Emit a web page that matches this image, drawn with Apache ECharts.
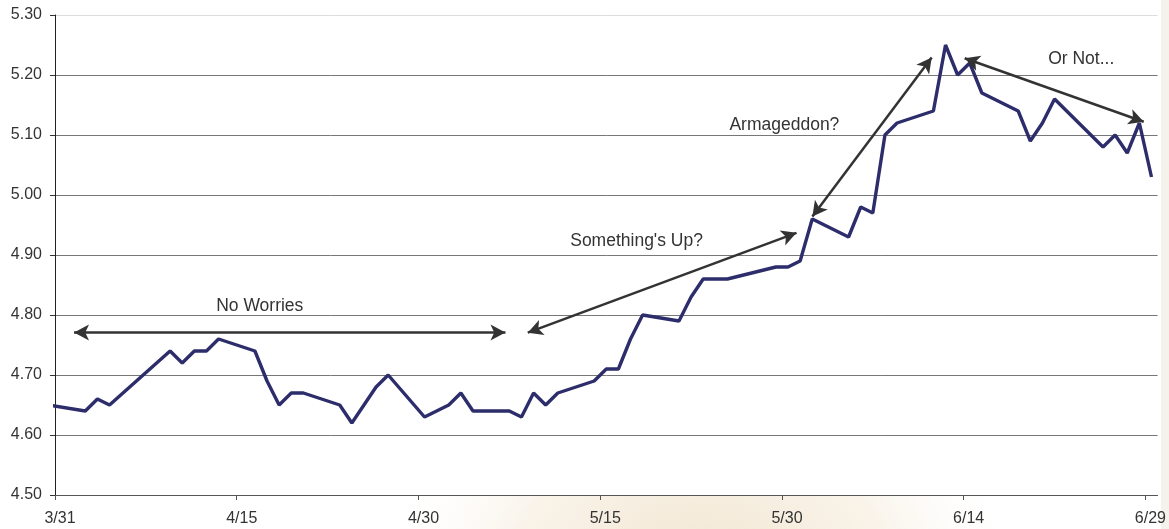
<!DOCTYPE html>
<html>
<head>
<meta charset="UTF-8">
<title>Yield</title>
<style>
  * { margin: 0; padding: 0; box-sizing: border-box; }
  body { width: 1169px; height: 529px; background: #fff; overflow: hidden; }
  #chart { width: 1169px; height: 529px; }
</style>
<script src="https://cdn.jsdelivr.net/npm/echarts@6/dist/echarts.min.js"></script>
</head>
<body>
<div id="chart"></div>
<script>
// 日期 (2007) 和收益率
const dates = [
  '3/30', '4/2', '4/3', '4/4', '4/9', '4/10', '4/11', '4/12', '4/13',
  '4/16', '4/17', '4/18', '4/19', '4/20', '4/23', '4/24', '4/26', '4/27',
  '4/30', '5/1', '5/2', '5/3', '5/4', '5/7', '5/8', '5/9', '5/10', '5/11',
  '5/14', '5/15', '5/16', '5/17', '5/18', '5/21', '5/22', '5/23', '5/24', '5/25',
  '5/29', '5/30', '5/31', '6/1', '6/4', '6/5', '6/6', '6/7', '6/8',
  '6/11', '6/12', '6/13', '6/14', '6/15', '6/18', '6/19', '6/20', '6/21',
  '6/25', '6/26', '6/27', '6/28', '6/29'
]
const yields = [
  4.65, 4.64, 4.66, 4.65, 4.74, 4.72, 4.74, 4.74, 4.76,
  4.74, 4.69, 4.65, 4.67, 4.67, 4.65, 4.62, 4.68, 4.70,
  4.63, 4.64, 4.65, 4.67, 4.64, 4.64, 4.63, 4.67, 4.65, 4.67,
  4.69, 4.71, 4.71, 4.76, 4.80, 4.79, 4.83, 4.86, 4.86, 4.86,
  4.88, 4.88, 4.89, 4.96, 4.93, 4.98, 4.97, 5.10, 5.12,
  5.14, 5.25, 5.20, 5.22, 5.17, 5.14, 5.09, 5.12, 5.16,
  5.08, 5.10, 5.07, 5.12, 5.03
]

// x 轴刻度标签
const tickLabels = ['3/31', '4/15', '4/30', '5/15', '5/30', '6/14', '6/29']

// 注释箭头：[起点天数, 起点值, 终点天数, 终点值]
const arrows = [
  [1.57, 4.771, 37.18, 4.771],
  [39.02, 4.7705, 61.2, 4.937],
  [62.51, 4.964, 72.36, 5.229],
  [75.08, 5.228, 89.86, 5.122]
]
// 注释文字：[文字, 天数, 值]
const notes = [
  ['No Worries', 16.9, 4.815],
  ["Something's Up?", 48.0, 4.923],
  ['Armageddon?', 60.2, 5.117],
  ['Or Not...', 84.7, 5.227]
]

const base = Date.UTC(2007, 2, 31)
const dayOf = (s) => {
  const [m, d] = s.split('/').map(Number)
  return (Date.UTC(2007, m - 1, d) - base) / 86400000
}
const lineData = dates.map((s, i) => [dayOf(s) + 0.5, yields[i]])

const chart = echarts.init(document.getElementById('chart'))

const font = 'Liberation Sans, Arial, sans-serif'

const option = {
  backgroundColor: '#fff',
  animation: false,
  graphic: [
    {
      type: 'circle',
      z: -10,
      silent: true,
      shape: { cx: 700, cy: 620, r: 330 },
      style: {
        fill: new echarts.graphic.RadialGradient(0.5, 0.5, 0.5, [
          { offset: 0, color: 'rgba(232,212,178,0.7)' },
          { offset: 0.6, color: 'rgba(240,225,200,0.4)' },
          { offset: 1, color: 'rgba(255,255,255,0)' }
        ])
      }
    },
    {
      type: 'rect',
      z: -10,
      silent: true,
      shape: { x: 1161, y: 0, width: 8, height: 529 },
      style: { fill: 'rgba(238,232,222,0.6)' }
    }
  ],
  grid: {
    left: 55, right: 11, top: 15, bottom: 34,
    show: true, backgroundColor: '#fff', borderWidth: 0
  },
  xAxis: {
    type: 'value',
    min: 0,
    max: 91,
    interval: 15,
    axisLine: { show: true, lineStyle: { color: '#555', width: 1 } },
    axisTick: { show: true, length: 5, lineStyle: { color: '#555' } },
    splitLine: { show: false },
    axisLabel: {
      color: '#333',
      fontFamily: font,
      fontSize: 16,
      margin: 16,
      padding: [0, 0, 0, 10],
      showMaxLabel: false,
      formatter: (v) => (v % 15 === 0 ? tickLabels[v / 15] || '' : '')
    }
  },
  yAxis: {
    type: 'value',
    min: 4.5,
    max: 5.3,
    interval: 0.1,
    axisLine: { show: true, lineStyle: { color: '#222', width: 1 } },
    axisTick: { show: true, length: 5, lineStyle: { color: '#333' } },
    splitLine: {
      show: true,
      lineStyle: {
        color: ['#666', '#777', '#777', '#777', '#777', '#777', '#777', '#777', '#ddd'],
        width: 1
      }
    },
    axisLabel: {
      color: '#333',
      fontFamily: font,
      fontSize: 16,
      margin: 13,
      formatter: (v) => v.toFixed(2)
    }
  },
  series: [
    {
      type: 'line',
      data: lineData,
      showSymbol: false,
      clip: true,
      lineStyle: { color: '#2d2d6b', width: 3.4 },
      z: 3
    },
    {
      type: 'line',
      data: [],
      markLine: {
        silent: true,
        symbol: ['arrow', 'arrow'],
        symbolSize: [12, 15],
        label: { show: false },
        lineStyle: { color: '#333', width: 2.5, type: 'solid' },
        data: arrows.map(a => [
          { coord: [a[0], a[1]] },
          { coord: [a[2], a[3]] }
        ])
      },
      markPoint: {
        silent: true,
        symbol: 'circle',
        symbolSize: 0,
        label: {
          show: true,
          position: 'inside',
          color: '#333',
          fontFamily: font,
          fontSize: 17.5,
          formatter: (p) => p.name
        },
        data: notes.map(n => ({ name: n[0], coord: [n[1], n[2]] }))
      },
      z: 4
    }
  ]
}

chart.setOption(option)
</script>
</body>
</html>
